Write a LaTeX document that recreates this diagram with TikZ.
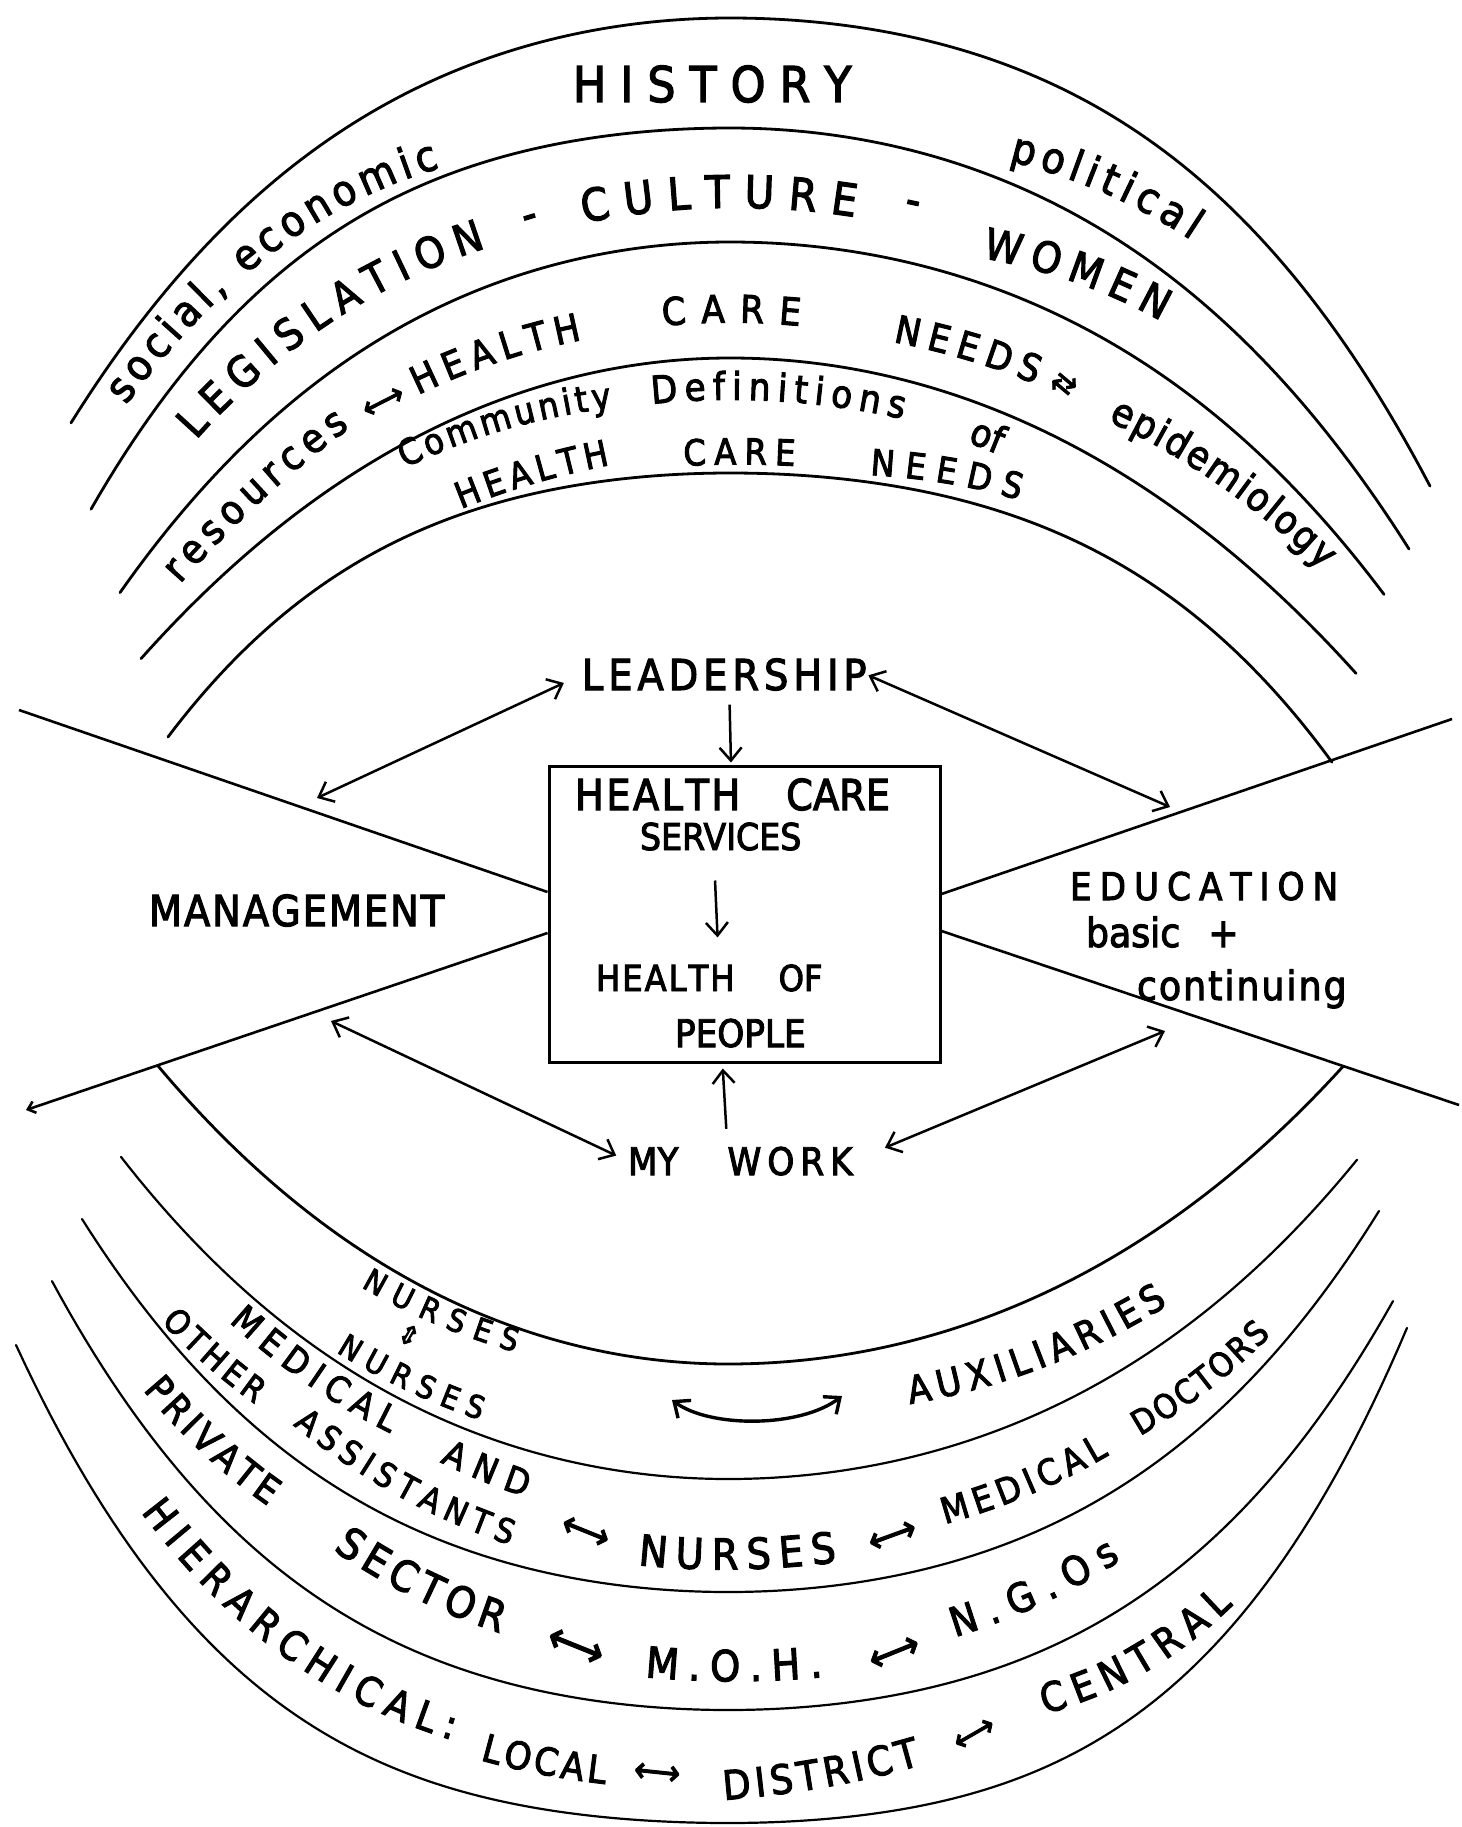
\documentclass[tikz,border=0pt]{standalone}
\usepackage{fontspec}
\newfontfamily\hw[FakeBold=2.6,FakeStretch=0.9,Scale=1.12]{DejaVu Sans}
\usetikzlibrary{arrows.meta,decorations.text}
\newcommand\tf[1]{\hw\fontsize{#1pt}{#1pt}\selectfont}
\makeatletter
\newcommand\ls[2]{\def\ls@gap{#1}\ls@loop#2\@nil}
\def\ls@loop#1#2\@nil{#1\ifx\relax#2\relax\else\hspace{\ls@gap}\ls@loop#2\@nil\fi}
\makeatother
% text on a curve between two arcs: #1 inner fn, #2 outer fn, (#3,#4) start, (#5,#6) end, #7 size, #8 text
\newcommand\rowtext[8]{%
  \pgfmathsetmacro\rtA{(#1(#3)-(#4))/(#1(#3)-#2(#3))}%
  \pgfmathsetmacro\rtB{(#1(#5)-(#6))/(#1(#5)-#2(#5))}%
  \path[decorate,decoration={text along path,text={|\tf{#7}|#8},text align={fit to path}}]
    plot[domain=#3:#5,samples=40,variable=\x]
    ({\x},{#1(\x)-((\rtA)+((\rtB)-(\rtA))*(\x-#3)/(#5-#3))*(#1(\x)-#2(\x))});%
}
\tikzset{
  lab/.style={inner sep=0pt,outer sep=0pt},
  glyph/.style={inner sep=0pt,outer sep=0pt},
  arcw/.style={line width=2.8pt,line cap=round},
  arcn/.style={line width=2.2pt,line cap=round},
  diag/.style={line width=2.6pt},
  arr/.style={line width=2.5pt,-{Straight Barb[length=13pt,width=22pt]}},
  darr/.style={line width=2.5pt,{Straight Barb[length=13pt,width=22pt]}-{Straight Barb[length=13pt,width=22pt]}},
}
\begin{document}
\begin{tikzpicture}[x=1pt,y=-1pt,
  declare function={
    uq(\x)=((\x-730)/100)*((\x-730)/100);
    vq(\x)=((\x-728)/100)*((\x-728)/100);
    lt(\x)=(\x<730);
    lb(\x)=(\x<728);
    topa(\x)=18+lt(\x)*(6.5*uq(\x)+0.065*uq(\x)*uq(\x))+(1-lt(\x))*(5.5*uq(\x)+0.0827*uq(\x)*uq(\x));
    topb(\x)=128+lt(\x)*(5.02*uq(\x)+0.1057*uq(\x)*uq(\x))+(1-lt(\x))*(6.61*uq(\x)+0.0547*uq(\x)*uq(\x));
    topc(\x)=242+lt(\x)*(7.19*uq(\x)+0.06*uq(\x)*uq(\x))+(1-lt(\x))*(6.28*uq(\x)+0.0458*uq(\x)*uq(\x));
    topd(\x)=358+lt(\x)*(7.8*uq(\x)+0.025*uq(\x)*uq(\x))+(1-lt(\x))*(7.21*uq(\x)+0.0214*uq(\x)*uq(\x));
    tope(\x)=473+lt(\x)*(4.93*uq(\x)+0.1085*uq(\x)*uq(\x))+(1-lt(\x))*(4.58*uq(\x)+0.0938*uq(\x)*uq(\x));
    bota(\x)=1364-lb(\x)*(7.93*vq(\x)+0.0383*vq(\x)*vq(\x))-(1-lb(\x))*(6.8*vq(\x)+0.0282*vq(\x)*vq(\x));
    botb(\x)=1479-lb(\x)*(6.9*vq(\x)+0.05*vq(\x)*vq(\x))-(1-lb(\x))*(6.38*vq(\x)+0.0427*vq(\x)*vq(\x));
    botc(\x)=1592-(5.6*vq(\x)+0.08*vq(\x)*vq(\x));
    botd(\x)=1710-(5.09*vq(\x)+0.094*vq(\x)*vq(\x));
    bote(\x)=1823-lb(\x)*(3.65*vq(\x)+0.114*vq(\x)*vq(\x))-(1-lb(\x))*(4.1*vq(\x)+0.144*vq(\x)*vq(\x));
  }]
\useasboundingbox (0,0) rectangle (1461,1827);
\fill[white] (0,0) rectangle (1461,1827);

% ---------- upper arcs ----------
\draw[arcw] plot[domain=71:1430,samples=160,variable=\x] ({\x},{topa(\x)});
\draw[arcw] plot[domain=91:1409,samples=160,variable=\x] ({\x},{topb(\x)});
\draw[arcw] plot[domain=120:1384,samples=160,variable=\x] ({\x},{topc(\x)});
\draw[arcw] plot[domain=141:1356,samples=160,variable=\x] ({\x},{topd(\x)});
\draw[arcw] plot[domain=168:1332,samples=160,variable=\x] ({\x},{tope(\x)});
% ---------- lower arcs ----------
\draw[arcw] plot[domain=158:1343,samples=160,variable=\x] ({\x},{bota(\x)});
\draw[arcn] plot[domain=121:1357,samples=160,variable=\x] ({\x},{botb(\x)});
\draw[arcn] plot[domain=82:1379,samples=160,variable=\x] ({\x},{botc(\x)});
\draw[arcn] plot[domain=52:1393,samples=160,variable=\x] ({\x},{botd(\x)});
\draw[arcn] plot[domain=16:1407,samples=160,variable=\x] ({\x},{bote(\x)});

% ---------- centre ----------
\node[draw,line width=3pt,minimum width=391pt,minimum height=296pt,inner sep=0pt] (box) at (744.5,914) {};
\node[lab,anchor=base west] (hist) at (573,102) {\tf{44}\ls{14pt}{HISTORY}};
\node[lab,anchor=base west] (lead) at (582,690) {\tf{38}\ls{5pt}{LEADERSHIP}};
\node[lab,anchor=base west] (hc) at (575,810) {\tf{38}\ls{2.5pt}{HEALTH}\hspace{46pt}CARE};
\node[lab,anchor=base west] (svc) at (640,850) {\tf{33}SERVICES};
\node[lab,anchor=base west] (hof) at (596,991) {\tf{32}\ls{2pt}{HEALTH}\hspace{44pt}OF};
\node[lab,anchor=base west] (ppl) at (675,1047) {\tf{34}PEOPLE};
\node[lab,anchor=base west] (mgmt) at (149,926) {\tf{38}\ls{2pt}{MANAGEMENT}};
\node[lab,anchor=base west] (edu) at (1070,900) {\tf{34}\ls{8pt}{EDUCATION}};
\node[lab,anchor=base west] (basic) at (1086,947) {\tf{36}basic\hspace{28pt}+};
\node[lab,anchor=base west] (cont) at (1137,1000) {\tf{36}\ls{2pt}{continuing}};
\node[lab,anchor=base west] (mywork) at (628,1175) {\tf{34}MY\hspace{49pt}\ls{6pt}{WORK}};

% diagonals
\coordinate (ul) at (19,710);
\coordinate (ll) at (26,1110);
\coordinate (ur) at (1452,719);
\coordinate (lr) at (1459,1105);
\draw[diag] (ul) -- ([yshift=22pt]box.west);
\draw[diag,-{Straight Barb[length=7pt,width=12pt]}] ([yshift=-19pt]box.west) -- (ll);
\draw[diag] ([yshift=20pt]box.east) -- (ur);
\draw[diag] ([yshift=-17pt]box.east) -- (lr);

% arrows
\coordinate (c1) at (317,798);
\coordinate (c2) at (1170,807);
\coordinate (c3) at (331,1021);
\coordinate (c4) at (1165,1031);
\draw[darr,shorten >=20pt] (c1) -- (lead.west);
\draw[darr,shorten >=2pt] (c2) -- (lead.east);
\draw[darr,shorten >=13pt] (c3) -- (mywork.west);
\draw[darr,shorten >=35pt] (c4) -- (mywork.east);
\draw[arr,shorten <=14pt,shorten >=2pt] ([xshift=5pt]lead.south) -- ([xshift=-13.5pt]box.north);
\draw[arr,shorten <=30pt,shorten >=27pt] ([xshift=-7pt]svc.south) -- ([xshift=9.5pt]hof.north);
\draw[arr,shorten <=18pt,shorten >=5pt] ([xshift=-13pt]mywork.north) -- ([xshift=-22pt]box.south);

% curved arrow nurses <-> auxiliaries
\coordinate (cvl) at (672,1400);
\coordinate (cvr) at (842,1396);
\draw[darr,line width=3.4pt] (cvl) .. controls (710,1428) and (800,1428) .. (cvr);

% ---------- texts along the bands ----------
\rowtext{topb}{topa}{126}{405}{440}{168}{38}{social, economic}
\rowtext{topb}{topa}{1009}{161}{1191}{240}{38}{political}
\rowtext{topc}{topb}{196}{440}{486}{248}{38}{LEGISLATION}
\rowtext{topc}{topb}{584}{223}{855}{217}{40}{CULTURE}
\rowtext{topc}{topb}{982}{258}{1161}{321}{38}{WOMEN}
\rowtext{topd}{topc}{180}{584}{350}{428}{36}{resources}
\rowtext{topd}{topc}{418}{395}{582}{340}{34}{HEALTH}
\rowtext{topd}{topc}{663}{326}{800}{326}{34}{CARE}
\rowtext{topd}{topc}{893}{342}{1035}{384}{34}{NEEDS}
\rowtext{topd}{topc}{1108}{421}{1322}{570}{35}{epidemiology}
\rowtext{tope}{topd}{405}{468}{612}{408}{32}{Community}
\rowtext{tope}{topd}{652}{404}{903}{419}{34}{Definitions}
\rowtext{tope}{topd}{461}{509}{610}{465}{32}{HEALTH}
\rowtext{tope}{topd}{684}{466}{795}{466}{32}{CARE}
\rowtext{tope}{topd}{870}{475}{1019}{500}{32}{NEEDS}
\rowtext{bota}{botb}{361}{1287}{515}{1352}{28}{NURSES}
\rowtext{bota}{botb}{336}{1352}{480}{1420}{28}{NURSES}
\rowtext{bota}{botb}{910}{1404}{1168}{1305}{34}{AUXILIARIES}
\rowtext{botb}{botc}{229}{1322}{390}{1433}{32}{MEDICAL}
\rowtext{botb}{botc}{440}{1462}{525}{1497}{32}{AND}
\rowtext{botb}{botc}{161}{1322}{255}{1404}{30}{OTHER}
\rowtext{botb}{botc}{293}{1425}{510}{1545}{30}{ASSISTANTS}
\rowtext{botb}{botc}{638}{1565}{837}{1562}{38}{NURSES}
\rowtext{botb}{botc}{945}{1524}{1109}{1455}{32}{MEDICAL}
\rowtext{botb}{botc}{1140}{1436}{1271}{1335}{30}{DOCTORS}
\rowtext{botc}{botd}{143}{1390}{268}{1506}{34}{PRIVATE}
\rowtext{botc}{botd}{333}{1550}{500}{1633}{38}{SECTOR}
\rowtext{botc}{botd}{645}{1677}{823}{1677}{38}{M.O.H.}
\rowtext{botc}{botd}{955}{1637}{1121}{1560}{36}{N.G.Os}
\rowtext{botd}{bote}{141}{1512}{452}{1740}{36}{HIERARCHICAL:}
\rowtext{botd}{bote}{480}{1760}{605}{1784}{34}{LOCAL}
\rowtext{botd}{bote}{724}{1800}{921}{1765}{36}{DISTRICT}
\rowtext{botd}{bote}{1045}{1714}{1233}{1605}{36}{CENTRAL}

% single glyphs
\node[glyph,rotate=27] (g1) at (384,403) {\tf{30}⟷};
\node[glyph,rotate=-40] (g2) at (1064,384) {\tf{28}⇄};
\node[glyph,rotate=17] (g3) at (531,222) {\tf{40}-};
\node[glyph,rotate=-12] (g4) at (912,208) {\tf{40}-};
\node[glyph,rotate=-22] (g5) at (988,435) {\tf{34}of};
\node[glyph,rotate=-30] (g6) at (409,1335) {\tf{24}⇕};
\node[glyph,rotate=-22] (g7) at (585,1533) {\tf{34}⟷};
\node[glyph,rotate=20] (g8) at (893,1537) {\tf{34}⟷};
\node[glyph,rotate=-22] (g9) at (575,1648) {\tf{40}⟷};
\node[glyph,rotate=22] (g10) at (895,1654) {\tf{36}⟷};
\node[glyph,rotate=-6] (g11) at (657,1774) {\tf{32}⟷};
\node[glyph,rotate=30] (g12) at (975,1735) {\tf{30}⟷};
\end{tikzpicture}
\end{document}
